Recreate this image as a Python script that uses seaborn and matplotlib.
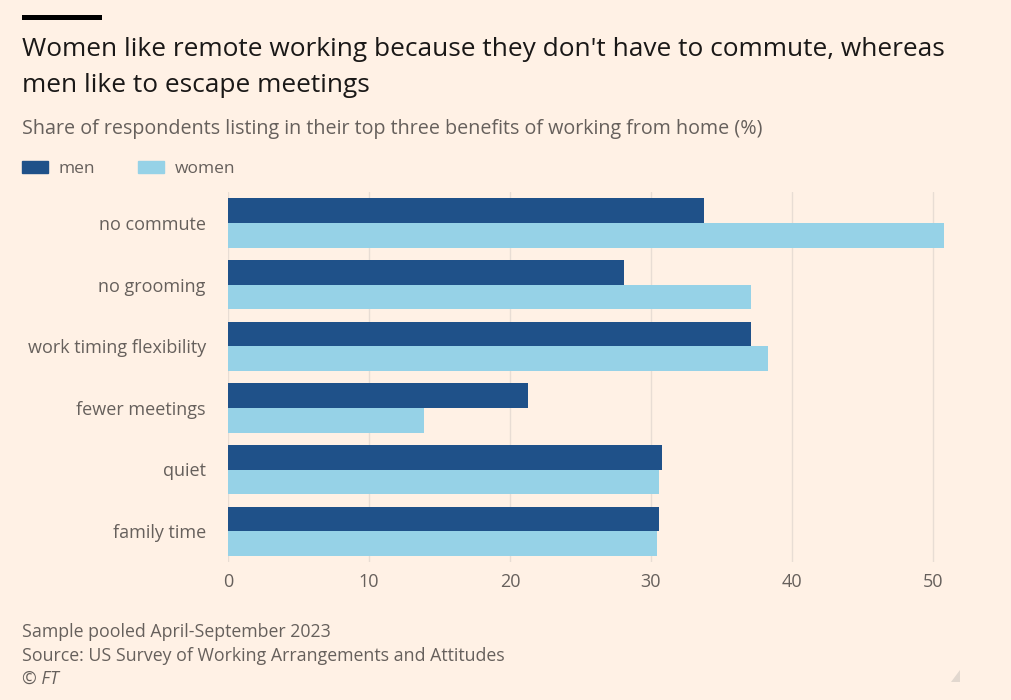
import matplotlib
matplotlib.use("Agg")
import matplotlib.pyplot as plt
import seaborn as sns
import pandas as pd
from matplotlib.patches import Rectangle, Polygon

categories = ["no commute", "no grooming", "work timing flexibility", "fewer meetings", "quiet", "family time"]
men = [33.8, 28.1, 37.1, 21.3, 30.8, 30.6]
women = [50.8, 37.1, 38.3, 13.9, 30.6, 30.4]
xticks = [0, 10, 20, 30, 40, 50]

df = pd.DataFrame({
    "benefit": categories * 2,
    "share": men + women,
    "group": ["men"] * len(categories) + ["women"] * len(categories),
})

BG = "#FFF1E5"
MEN_C = "#1F5189"
WOMEN_C = "#96D2E7"
TXT = "#66605C"

sns.set_theme(style="white")
plt.rcParams["font.family"] = ["Open Sans", "DejaVu Sans"]

fig = plt.figure(figsize=(10.12, 7.0), dpi=100, facecolor=BG)
ax = fig.add_axes([228 / 1012, 1 - 562 / 700, (961 - 228) / 1012, (562 - 192) / 700])
ax.set_facecolor(BG)

sns.barplot(data=df, y="benefit", x="share", hue="group", orient="h",
            palette={"men": MEN_C, "women": WOMEN_C}, width=0.8,
            order=categories, hue_order=["men", "women"], ax=ax, legend=False,
            saturation=1, linewidth=0)

ax.set_xlim(0, 52)
ax.set_xticks(xticks)
ax.set_xticklabels([str(t) for t in xticks])
ax.set_xlabel("")
ax.set_ylabel("")
for s in ax.spines.values():
    s.set_visible(False)
ax.grid(axis="x", color="#E8DDD4", linewidth=1)
ax.set_axisbelow(True)
ax.tick_params(axis="y", length=11.5, color="#D9CCC1", width=1, pad=4.5, labelsize=13, labelcolor=TXT)
ax.tick_params(axis="x", length=0, pad=8, labelsize=13, labelcolor=TXT)

# top black bar
fig.add_artist(Rectangle((22 / 1012, 1 - 20 / 700), 80 / 1012, 5 / 700,
                         transform=fig.transFigure, color="black", lw=0))

fig.text(22 / 1012, 1 - 37 / 700, "Women like remote working because they don't have to commute, whereas\nmen like to escape meetings",
         fontsize=18.9, color="#1A1817", va="top", ha="left", linespacing=1.6)
fig.text(22 / 1012, 1 - 129 / 700, "Share of respondents listing in their top three benefits of working from home (%)",
         fontsize=14.2, color=TXT, va="center", ha="left")

# legend
handles = [Rectangle((0, 0), 1, 1, color=MEN_C), Rectangle((0, 0), 1, 1, color=WOMEN_C)]
fig.legend(handles, ["men", "women"], loc="center left", bbox_to_anchor=(22 / 1012, 1 - 169 / 700),
           ncol=2, frameon=False, fontsize=12.5, labelcolor=TXT, handlelength=1.5, handleheight=0.7,
           columnspacing=2.5, handletextpad=0.6, borderpad=0, borderaxespad=0)

foot = ["Sample pooled April-September 2023",
        "Source: US Survey of Working Arrangements and Attitudes"]
fig.text(22 / 1012, 1 - 632 / 700, foot[0], fontsize=12.8, color=TXT, va="center", ha="left")
fig.text(22 / 1012, 1 - 656 / 700, foot[1], fontsize=12.8, color=TXT, va="center", ha="left")
fig.text(22 / 1012, 1 - 679 / 700, "© FT", fontsize=12.8, color=TXT, va="center", ha="left", style="italic")

fig.add_artist(Polygon([(960 / 1012, 1 - 682 / 700), (960 / 1012, 1 - 670 / 700), (951 / 1012, 1 - 682 / 700)],
                       closed=True, transform=fig.transFigure, color="#E2D8CF", lw=0))

fig.savefig("out.png", dpi=100, facecolor=BG)
